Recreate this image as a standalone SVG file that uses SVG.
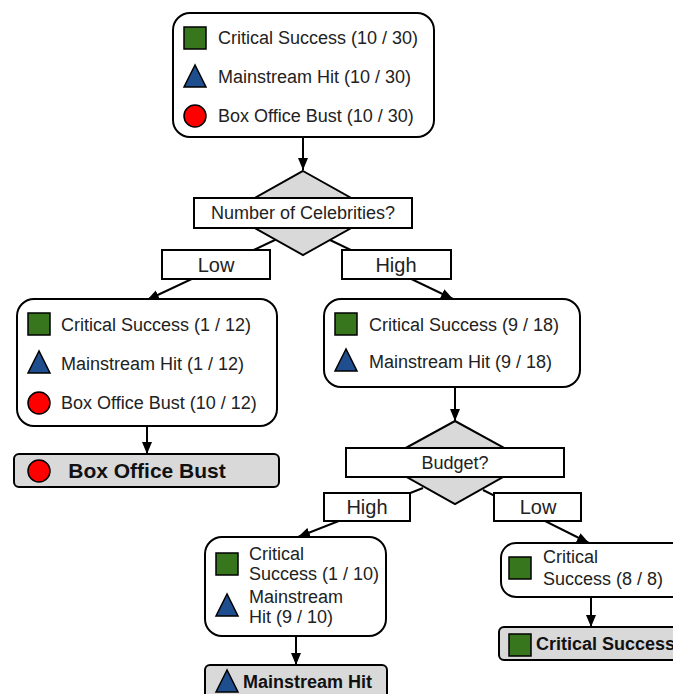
<svg xmlns="http://www.w3.org/2000/svg" width="673" height="694" viewBox="0 0 673 694">
<defs>
<style>
.box{fill:#fff;stroke:#000;stroke-width:2}
.leaf{fill:#d9d9d9;stroke:#000;stroke-width:2}
.dia{fill:#d9d9d9;stroke:#000;stroke-width:2}
.lbl{fill:#fff;stroke:#000;stroke-width:2}
.t{font-family:"Liberation Sans",Arial,sans-serif;font-size:18px;fill:#222}
.e{font-size:20px}
.c{text-anchor:middle}
.b{font-weight:bold;fill:#111}
.sq{fill:#38761d;stroke:#000;stroke-width:1.5}
.tri{fill:#1f4e8f;stroke:#000;stroke-width:1.5}
.cir{fill:#ff0000;stroke:#000;stroke-width:1.5}
.edge{stroke:#000;stroke-width:2;fill:none;marker-end:url(#arr)}
</style>
<marker id="arr" viewBox="0 0 12 10" refX="12" refY="5" markerWidth="12" markerHeight="10" orient="auto" markerUnits="userSpaceOnUse"><path d="M0,0 L12,5 L0,10 z" fill="#000"/></marker>
</defs>
<rect width="673" height="694" fill="#fff"/>

<g id="connectors">
<line class="edge" x1="303" y1="137" x2="303" y2="170"/>
<line class="edge" x1="277" y1="239" x2="147" y2="300"/>
<line class="edge" x1="330" y1="240" x2="453" y2="299"/>
<line class="edge" x1="147" y1="426" x2="147" y2="454"/>
<line class="edge" x1="455" y1="387" x2="455" y2="421"/>
<line class="edge" x1="423" y1="488" x2="298" y2="537"/>
<line class="edge" x1="483" y1="490" x2="589" y2="543"/>
<line class="edge" x1="296" y1="636" x2="296" y2="665"/>
<line class="edge" x1="591" y1="597" x2="591" y2="627"/>
</g>

<g id="root">
<rect class="box" x="173" y="13" width="261" height="124" rx="17"/>
<rect class="sq" x="184" y="27" width="22" height="22"/>
<text class="t" x="218" y="44">Critical Success (10 / 30)</text>
<polygon class="tri" points="195,65 184,87 206,87"/>
<text class="t" x="218" y="83">Mainstream Hit (10 / 30)</text>
<circle class="cir" cx="195" cy="116" r="11"/>
<text class="t" x="218" y="122">Box Office Bust (10 / 30)</text>
</g>

<g id="q-celebrities">
<polygon class="dia" points="303,171 378,213 303,255 228,213"/>
<rect class="lbl" x="194" y="198" width="218" height="30"/>
<text class="t c" x="303" y="219">Number of Celebrities?</text>
</g>

<g id="edge-labels">
<rect class="lbl" x="162" y="250" width="108" height="29"/>
<text class="t e c" x="216" y="272">Low</text>
<rect class="lbl" x="342" y="250" width="109" height="29"/>
<text class="t e c" x="396" y="272">High</text>
<rect class="lbl" x="324" y="493" width="86" height="28"/>
<text class="t e c" x="367" y="514">High</text>
<rect class="lbl" x="494" y="493" width="87" height="28"/>
<text class="t e c" x="538" y="514">Low</text>
</g>

<g id="low-celebs">
<rect class="box" x="17" y="299" width="260" height="127" rx="17"/>
<rect class="sq" x="28" y="313" width="22" height="22"/>
<text class="t" x="61" y="331">Critical Success (1 / 12)</text>
<polygon class="tri" points="39,351 28,373 50,373"/>
<text class="t" x="61" y="370">Mainstream Hit (1 / 12)</text>
<circle class="cir" cx="39" cy="403" r="11"/>
<text class="t" x="61" y="409">Box Office Bust (10 / 12)</text>
</g>

<g id="leaf-bust">
<rect class="leaf" x="14" y="454" width="265" height="33" rx="5"/>
<circle class="cir" cx="39" cy="471" r="11"/>
<text class="t b c" x="147" y="478" style="font-size:21px">Box Office Bust</text>
</g>

<g id="high-celebs">
<rect class="box" x="324" y="299" width="256" height="88" rx="17"/>
<rect class="sq" x="335" y="313" width="22" height="22"/>
<text class="t" x="369" y="331">Critical Success (9 / 18)</text>
<polygon class="tri" points="346,349 335,371 357,371"/>
<text class="t" x="369" y="368">Mainstream Hit (9 / 18)</text>
</g>

<g id="q-budget">
<polygon class="dia" points="455,421 530,462 455,504 380,462"/>
<rect class="lbl" x="346" y="448" width="218" height="29"/>
<text class="t c" x="455" y="469">Budget?</text>
</g>

<g id="high-budget">
<rect class="box" x="205" y="537" width="181" height="99" rx="17"/>
<rect class="sq" x="216" y="553" width="22" height="22"/>
<polygon class="tri" points="227,594 216,616 238,616"/>
<text class="t" x="249" y="560">Critical</text>
<text class="t" x="249" y="580">Success (1 / 10)</text>
<text class="t" x="249" y="603">Mainstream</text>
<text class="t" x="249" y="623">Hit (9 / 10)</text>
</g>

<g id="leaf-mainstream">
<rect class="leaf" x="205" y="665" width="182" height="40" rx="5"/>
<polygon class="tri" points="227,670 216,692 238,692"/>
<text class="t b" x="243" y="688">Mainstream Hit</text>
</g>

<g id="low-budget">
<rect class="box" x="501" y="543" width="190" height="54" rx="15"/>
<rect class="sq" x="509" y="557" width="22" height="22"/>
<text class="t" x="543" y="563">Critical</text>
<text class="t" x="543" y="585">Success (8 / 8)</text>
</g>

<g id="leaf-critical">
<rect class="leaf" x="499" y="627" width="190" height="33" rx="5"/>
<rect class="sq" x="509" y="634" width="22" height="22"/>
<text class="t b" x="536" y="650">Critical Success</text>
</g>
</svg>
